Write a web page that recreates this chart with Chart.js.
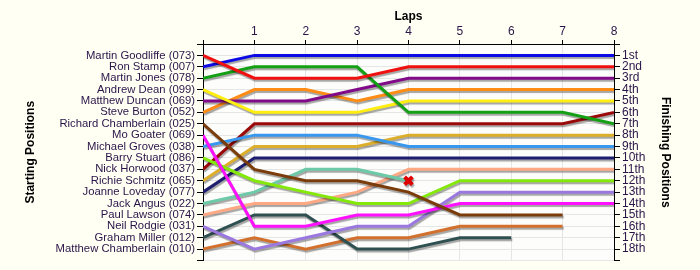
<!DOCTYPE html>
<html>
<head>
<meta charset="utf-8">
<script src="https://cdn.jsdelivr.net/npm/chart.js@4/dist/chart.umd.min.js"></script>
<style>
  body { margin: 0; background: #fffff4; }
  #wrap { width: 700px; height: 270px; }
</style>
</head>
<body>
<div id="wrap"><canvas id="lapChart" width="700" height="270"></canvas></div>
<script>
// laps 0..8
const laps = [0, 1, 2, 3, 4, 5, 6, 7, 8];
// drivers in starting order
const drivers = [
  "Martin Goodliffe (073)", "Ron Stamp (007)", "Martin Jones (078)", "Andrew Dean (099)",
  "Matthew Duncan (069)", "Steve Burton (052)", "Richard Chamberlain (025)", "Mo Goater (069)",
  "Michael Groves (038)", "Barry Stuart (086)", "Nick Horwood (037)", "Richie Schmitz (065)",
  "Joanne Loveday (077)", "Jack Angus (022)", "Paul Lawson (074)", "Neil Rodgie (031)",
  "Graham Miller (012)", "Matthew Chamberlain (010)"
];
const finishLabels = ["1st", "2nd", "3rd", "4th", "5th", "6th", "7th", "8th", "9th",
  "10th", "11th", "12th", "13th", "14th", "15th", "16th", "17th", "18th"];

// position of each driver at every lap (null = not running)
const goodliffe  = [1, 3, 3, 3, 2, 2, 2, 2, 2];
const stamp      = [2, 1, 1, 1, 1, 1, 1, 1, 1];
const jones      = [3, 2, 2, 2, 6, 6, 6, 6, 7];
const dean       = [4, 6, 6, 6, 5, 5, 5, 5, 5];
const duncan     = [5, 5, 5, 4, 3, 3, 3, 3, 3];
const burton     = [6, 4, 4, 5, 4, 4, 4, 4, 4];
const rchamb     = [7, 11, 12, 12, 13, 15, 15, 15, null];
const goater     = [8, 16, 16, 15, 15, 14, 14, 14, 14];
const groves     = [9, 8, 8, 8, 9, 9, 9, 9, 9];
const stuart     = [10, 12, 13, 14, 14, 12, 12, 12, 12];
const horwood    = [11, 7, 7, 7, 7, 7, 7, 7, 6];
const schmitz    = [12, 9, 9, 9, 8, 8, 8, 8, 8];
const loveday    = [13, 10, 10, 10, 10, 10, 10, 10, 10];
const angus      = [14, 13, 11, 11, 12, null, null, null, null];
const lawson     = [15, 14, 14, 13, 11, 11, 11, 11, 11];
const rodgie     = [16, 18, 17, 16, 16, 13, 13, 13, 13];
const miller     = [17, 15, 15, 18, 18, 17, 17, null, null];
const mchamb     = [18, 17, 18, 17, 17, 16, 16, 16, null];

// retirement marker (lap, position)
const retiredLap = [4];
const retiredPos = [12];

const series = [goodliffe, stamp, jones, dean, duncan, burton, rchamb, goater, groves,
  stuart, horwood, schmitz, loveday, angus, lawson, rodgie, miller, mchamb];
const colors = ["#f01010", "#0a0ae6", "#14a014", "#ffee10", "#800a88", "#ff8c14",
  "#7a3c0a", "#ff10ff", "#3898f0", "#84e80a", "#9a0a0a", "#dcae2a",
  "#1e1e70", "#6ccaa8", "#ffa884", "#9a78e0", "#2f5050", "#d2702e"];

const datasets = series.map((s, i) => ({
  label: drivers[i],
  data: s.map((p, k) => ({ x: laps[k], y: p })),
  borderColor: colors[i],
  borderWidth: 3,
  pointRadius: 0,
  tension: 0,
  spanGaps: false,
  fill: false
}));

datasets.unshift({
  label: "retired",
  type: "scatter",
  data: retiredLap.map((l, i) => ({ x: l, y: retiredPos[i] })),
  pointStyle: "crossRot",
  pointRadius: 5.5,
  pointBorderWidth: 4,
  pointBorderColor: "#e00000",
  pointBackgroundColor: "#e00000"
});

const labelColor = "#2a1448";
const fontFam = "'Liberation Sans', Arial, sans-serif";

const plotBg = {
  id: "plotBg",
  beforeDraw(chart) {
    const { ctx, chartArea: a } = chart;
    ctx.save();
    ctx.fillStyle = "#fdfdfb";
    ctx.fillRect(a.left, a.top, a.right - a.left, a.bottom - a.top);
    ctx.restore();
  }
};

const lineShadow = {
  id: "lineShadow",
  beforeDatasetsDraw(chart) {
    const ctx = chart.ctx;
    ctx.save();
    ctx.shadowColor = "rgba(0,0,0,0.35)";
    ctx.shadowOffsetX = 1;
    ctx.shadowOffsetY = 2;
    ctx.shadowBlur = 1;
  },
  afterDatasetsDraw(chart) {
    chart.ctx.restore();
  }
};

new Chart(document.getElementById("lapChart").getContext("2d"), {
  type: "line",
  data: { datasets },
  plugins: [plotBg, lineShadow],
  options: {
    responsive: false,
    animation: false,
    layout: { padding: { top: 0, left: 0, right: 0, bottom: 9 } },
    font: { family: fontFam, size: 12 },
    plugins: { legend: { display: false }, tooltip: { enabled: false } },
    scales: {
      x: {
        type: "linear",
        position: "top",
        min: 0,
        max: 8,
        afterFit(scale) { scale.height = 44; },
        ticks: {
          stepSize: 1,
          padding: 1,
          color: labelColor,
          font: { family: fontFam, size: 12 },
          callback: v => (v === 0 ? "" : String(v))
        },
        grid: { color: "#e6e6e6", tickColor: "#000", tickLength: 4 },
        border: { color: "#000", width: 1 },
        title: {
          display: true,
          text: "Laps",
          color: "#000",
          padding: { top: 9, bottom: 0 },
          font: { family: fontFam, size: 12, weight: "bold" }
        }
      },
      y: {
        position: "left",
        reverse: true,
        min: 0,
        max: 19,
        afterFit(scale) { scale.width = 203; },
        ticks: {
          stepSize: 1,
          padding: 2,
          autoSkip: false,
          color: labelColor,
          font: { family: fontFam, size: 11.3 },
          callback: v => drivers[v - 1] || ""
        },
        grid: { color: "#e6e6e6", tickColor: "#000", tickLength: 6 },
        border: { color: "#000", width: 1 },
        title: {
          display: true,
          text: "Starting Positions",
          color: "#000",
          padding: { top: 23, bottom: 0 },
          font: { family: fontFam, size: 12, weight: "bold" }
        }
      },
      y2: {
        position: "right",
        reverse: true,
        min: 0,
        max: 19,
        afterFit(scale) { scale.width = 86; },
        ticks: {
          stepSize: 1,
          padding: 2,
          autoSkip: false,
          color: labelColor,
          font: { family: fontFam, size: 12 },
          callback: v => finishLabels[v - 1] || ""
        },
        grid: { drawOnChartArea: false, tickColor: "#000", tickLength: 6 },
        border: { color: "#000", width: 1 },
        title: {
          display: true,
          text: "Finishing Positions",
          color: "#000",
          padding: { top: 27, bottom: 0 },
          font: { family: fontFam, size: 12, weight: "bold" }
        }
      }
    }
  }
});
</script>
</body>
</html>
